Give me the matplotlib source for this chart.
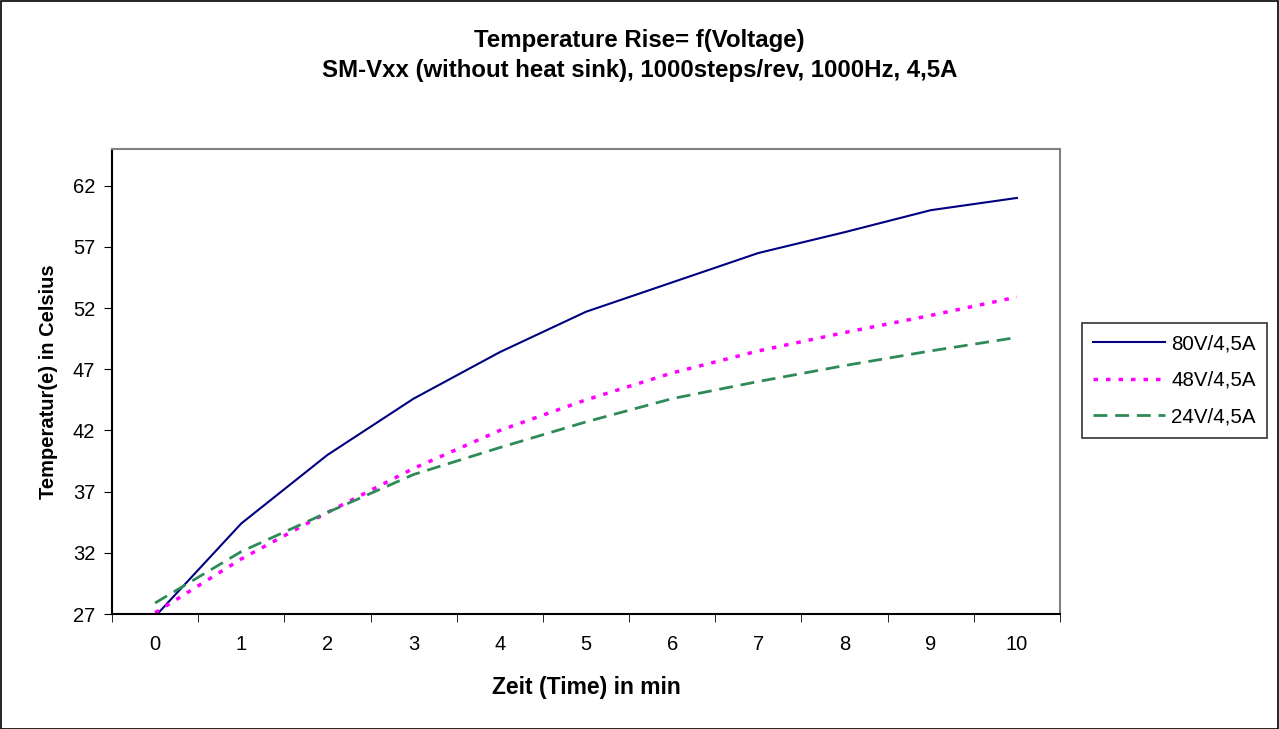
import numpy as np
import matplotlib.pyplot as plt
from matplotlib.patches import Rectangle

plt.rcParams['font.family'] = ['Liberation Sans', 'DejaVu Sans']

# data
minutes = [0, 1, 2, 3, 4, 5, 6, 7, 8, 9, 10]
t_80v = [26.8, 34.4, 40.0, 44.6, 48.4, 51.7, 54.1, 56.5, 58.2, 60.0, 61.0]
t_48v = [27.1, 31.5, 35.3, 38.9, 42.0, 44.5, 46.7, 48.5, 50.0, 51.4, 52.9]
t_24v = [27.9, 32.1, 35.3, 38.4, 40.6, 42.7, 44.6, 46.0, 47.3, 48.5, 49.6]
y_ticks = [27, 32, 37, 42, 47, 52, 57, 62]

fig = plt.figure(figsize=(12.79, 7.29), dpi=100)
ax = fig.add_axes([112/1279, 1-614/729, (1060-112)/1279, (614-149)/729])

x = np.arange(len(minutes))
ax.plot(x, t_80v, color='#000080', linestyle='-', linewidth=1.5, label='80V/4,5A')
ax.plot(x, t_48v, color='#ff00ff', linestyle=(0, (1.3, 2.3)), linewidth=2.5, label='48V/4,5A')
ax.plot(x, t_24v, color='#2e8b57', linestyle=(0, (5, 2.8)), linewidth=2, label='24V/4,5A')

ax.set_xlim(-0.5, 10.5)
ax.set_ylim(27, 65)
ax.set_xticks(x)
ax.set_xticklabels([str(m) for m in minutes], fontsize=14.5)
ax.set_xticks(np.arange(-0.5, 11, 1), minor=True)
ax.tick_params(axis='x', which='major', length=0, pad=15)
ax.tick_params(axis='x', which='minor', length=6, direction='out', color='black')
ax.set_yticks(y_ticks)
ax.set_yticklabels([str(v) for v in y_ticks], fontsize=14.5)
ax.tick_params(axis='y', length=6, direction='out', pad=6)

for s in ['top', 'right']:
    ax.spines[s].set_color('#808080')
    ax.spines[s].set_linewidth(1.5)
for s in ['left', 'bottom']:
    ax.spines[s].set_color('black')
    ax.spines[s].set_linewidth(1.5)

ax.set_xlabel('Zeit (Time) in min', fontsize=16.5, fontweight='bold', labelpad=16)
ax.set_ylabel('Temperatur(e) in Celsius', fontsize=14.5, fontweight='bold', labelpad=11)

fig.text(0.5, 1-40/729, 'Temperature Rise= f(Voltage)', ha='center', va='center',
         fontsize=17.3, fontweight='bold')
fig.text(0.5, 1-71/729, 'SM-Vxx (without heat sink), 1000steps/rev, 1000Hz, 4,5A',
         ha='center', va='center', fontsize=17.3, fontweight='bold')

leg = ax.legend(loc='upper left', bbox_to_anchor=((1082-112)/(1060-112), (614-323)/(614-149)),
                frameon=True, fancybox=False, edgecolor='black', fontsize=14.8,
                handlelength=3.5, borderpad=0.55, labelspacing=0.85, handletextpad=0.3,
                borderaxespad=0)
leg.get_frame().set_linewidth(1.2)

fig.patches.append(Rectangle((0.5/1279, 0.5/729), 1-1.5/1279, 1-1.5/729, transform=fig.transFigure,
                             fill=False, edgecolor='black', linewidth=1.2))

fig.savefig('out.png', dpi=100)
